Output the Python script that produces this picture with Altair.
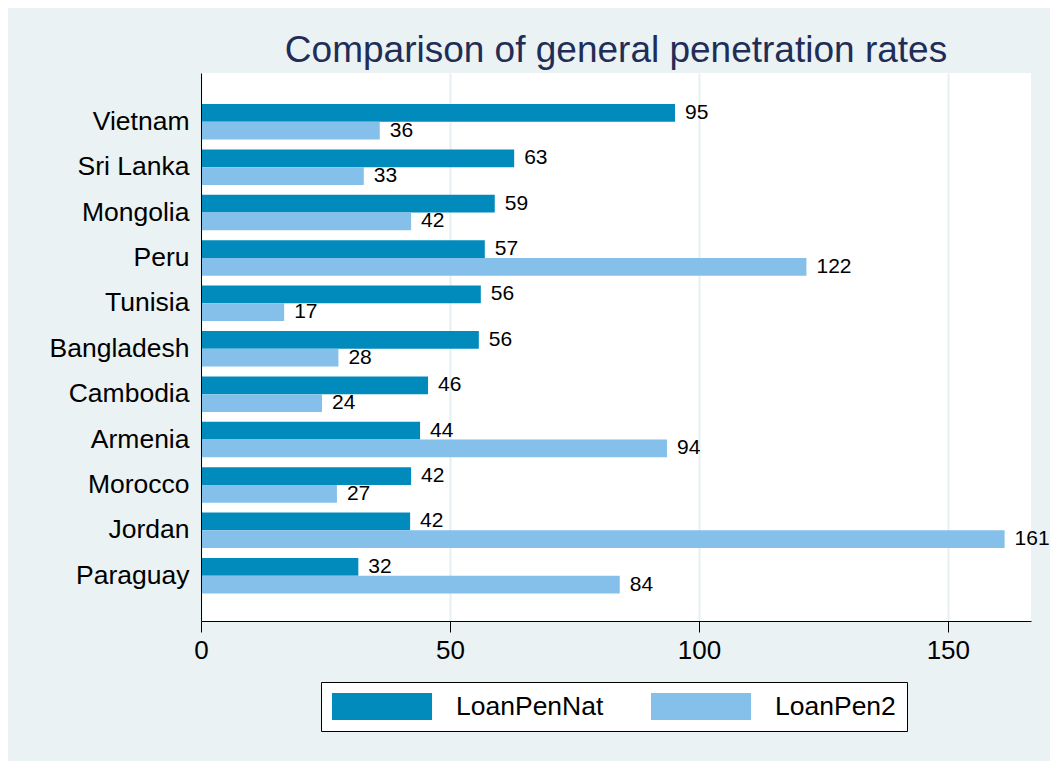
import altair as alt
import pandas as pd

countries = ["Vietnam", "Sri Lanka", "Mongolia", "Peru", "Tunisia", "Bangladesh",
             "Cambodia", "Armenia", "Morocco", "Jordan", "Paraguay"]
loan_pen_nat = [95.2, 62.9, 59.0, 57.0, 56.2, 55.8, 45.6, 44.0, 42.2, 42.0, 31.6]
loan_pen_2 = [35.9, 32.7, 42.2, 121.6, 16.7, 27.6, 24.3, 93.6, 27.3, 161.4, 84.1]
series = ["LoanPenNat", "LoanPen2"]
colors = ["#008BBC", "#84C0EA"]
x_ticks = [0, 50, 100, 150]

rows = []
for c, a, b in zip(countries, loan_pen_nat, loan_pen_2):
    rows.append({"country": c, "series": series[0], "value": a})
    rows.append({"country": c, "series": series[1], "value": b})
df = pd.DataFrame(rows)

FONT = "Liberation Sans"

x_enc = alt.X("value:Q", title=None,
              scale=alt.Scale(domain=[0, 166.7], nice=False, zero=True),
              axis=alt.Axis(values=x_ticks, format="d", grid=True, gridColor="#E6EFF1",
                            gridWidth=2, domainColor="black", domainWidth=1,
                            tickColor="black", tickSize=11, tickWidth=1,
                            labelFontSize=26, labelFont=FONT, labelColor="black",
                            labelPadding=5, labelFlush=False, zindex=0))
y_enc = alt.Y("country:N", sort=countries, title=None,
              scale=alt.Scale(paddingInner=0.218, paddingOuter=0.644, align=0.53),
              axis=alt.Axis(ticks=False, tickSize=0, grid=False, domainColor="black",
                            domainWidth=1, labelFontSize=26.5, labelFont=FONT,
                            labelColor="black", labelPadding=12, zindex=1))
yoff = alt.YOffset("series:N", sort=series,
                   scale=alt.Scale(domain=series, paddingInner=0, paddingOuter=0))

bars = alt.Chart(df).mark_bar(strokeWidth=0).encode(
    x=x_enc, y=y_enc, yOffset=yoff,
    color=alt.Color("series:N", sort=series,
                    scale=alt.Scale(domain=series, range=colors),
                    legend=alt.Legend(title=None, orient="none", legendX=120, legendY=609,
                                      direction="horizontal", columns=2,
                                      symbolType="M-1,-1H6.41V1H-1Z", symbolSize=729,
                                      symbolStrokeWidth=0, symbolOpacity=1,
                                      labelFontSize=26.5, labelFont=FONT, labelColor="black",
                                      labelOffset=97, columnPadding=47, padding=11,
                                      strokeColor="black", fillColor="white")),
)

labels = alt.Chart(df).mark_text(align="left", baseline="middle", dx=10, fontSize=21,
                                 font=FONT, color="black").encode(
    x=alt.X("value:Q"), y=alt.Y("country:N", sort=countries), yOffset=alt.YOffset("series:N", sort=series),
    text=alt.Text("value:Q", format=".0f"),
)

chart = (bars + labels).properties(
    width=830, height=548,
    title=alt.Title("Comparison of general penetration rates", fontSize=37, font=FONT,
                    color="#1F2D57", fontWeight="normal", anchor="middle", frame="group",
                    offset=3),
    background="#EAF2F3",
    padding={"left": 193, "top": 65, "right": 19, "bottom": 140},
    autosize=alt.AutoSizeParams(type="none"),
).configure_view(fill="white", stroke=None)

chart.save("out.html", embed_options={"renderer": "svg", "actions": False})
